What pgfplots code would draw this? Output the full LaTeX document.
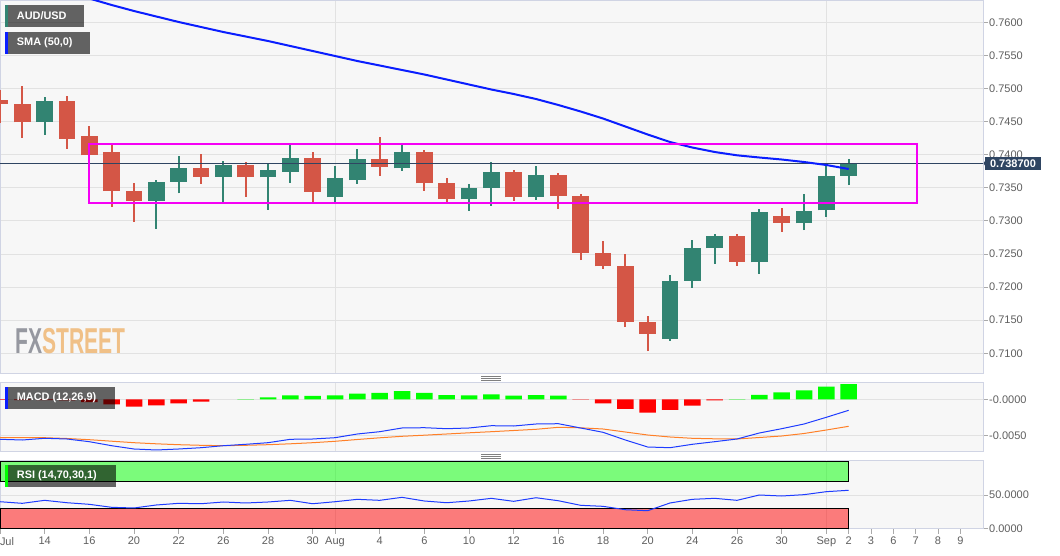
\documentclass[border=0pt]{standalone}
\usepackage{fontspec}
\setmainfont{Liberation Sans}
\usepackage{graphicx}
\usepackage{pgfplots}
\pgfplotsset{compat=1.18}
\usepackage{pgfplotstable}

\definecolor{bg}{RGB}{247,247,247}
\definecolor{bordc}{RGB}{208,212,228}
\definecolor{gridc}{RGB}{226,226,226}
\definecolor{cred}{RGB}{212,86,70}
\definecolor{cgreen}{RGB}{50,132,114}
\definecolor{smablue}{RGB}{10,30,255}
\definecolor{lblue}{RGB}{30,60,255}
\definecolor{lorange}{RGB}{255,128,40}
\definecolor{magc}{RGB}{245,0,245}
\definecolor{navy}{RGB}{47,69,98}
\definecolor{tickc}{RGB}{95,95,95}
\definecolor{tickm}{RGB}{170,170,170}
\definecolor{fxgray}{RGB}{150,152,160}
\definecolor{fxorange}{RGB}{240,192,135}

\newcommand{\ticfont}{\fontsize{11}{13}\selectfont}
\newcommand{\legfont}{\fontsize{10.9}{13}\selectfont\bfseries}

% red (down) candles
\pgfplotstableread{
idx open high low close
0 0.748263 0.749774 0.744789 0.747613
1 0.747610 0.750378 0.742568 0.744894
3 0.748157 0.748867 0.740906 0.742417
4 0.742870 0.744335 0.739501 0.739909
5 0.740362 0.741616 0.732145 0.734516
6 0.734516 0.735725 0.729879 0.733051
9 0.737945 0.740106 0.735620 0.736676
11 0.738488 0.738897 0.733655 0.736586
14 0.739456 0.740408 0.732900 0.734411
17 0.739350 0.742718 0.736827 0.738187
19 0.740408 0.740710 0.734562 0.735680
20 0.735725 0.736480 0.732900 0.733277
23 0.737342 0.737688 0.733051 0.733565
25 0.736888 0.737235 0.731842 0.733761
26 0.733761 0.734063 0.724093 0.725196
27 0.725150 0.726963 0.722778 0.723141
28 0.723141 0.724998 0.713972 0.714772
29 0.714727 0.715633 0.710347 0.712960
33 0.727718 0.728021 0.723232 0.723836
35 0.730695 0.731949 0.728368 0.729728
}\redc

% green (up) candles
\pgfplotstableread{
idx open high low close
2 0.744985 0.748716 0.743021 0.748157
7 0.733051 0.736178 0.728821 0.735921
8 0.735921 0.739849 0.734169 0.737945
10 0.736676 0.739047 0.732810 0.738488
12 0.736586 0.738700 0.731691 0.737688
13 0.737432 0.741465 0.735770 0.739456
15 0.733610 0.738293 0.732900 0.736480
16 0.736178 0.740860 0.735620 0.739350
18 0.737945 0.741616 0.737583 0.740408
21 0.733262 0.735574 0.731541 0.735045
22 0.735015 0.738897 0.732296 0.737342
24 0.733565 0.738293 0.733202 0.736979
30 0.712158 0.721826 0.711901 0.720920
31 0.720965 0.727115 0.719909 0.725860
32 0.725860 0.728021 0.723535 0.727718
34 0.723745 0.731797 0.722023 0.731298
36 0.729637 0.734063 0.728625 0.731540
37 0.731601 0.738338 0.730635 0.736827
38 0.736827 0.739304 0.735422 0.738700
}\greenc

% SMA(50), MACD, signal, RSI per session
\pgfplotstableread{
idx sma macd signal rsi
0 0.768203 -0.005494 -0.005275 39.9
1 0.766994 -0.005591 -0.005275 37.5
2 0.765786 -0.005357 -0.005275 42.0
3 0.764577 -0.005453 -0.005385 38.4
4 0.763596 -0.005824 -0.005549 36.0
5 0.762614 -0.006374 -0.005755 31.5
6 0.761707 -0.006827 -0.005961 30.5
7 0.760877 -0.006964 -0.006113 35.0
8 0.760046 -0.006827 -0.006236 37.5
9 0.759290 -0.006648 -0.006319 36.9
10 0.758535 -0.006374 -0.006374 39.5
11 0.757855 -0.006181 -0.006319 38.0
12 0.757176 -0.005961 -0.006236 39.5
13 0.756420 -0.005494 -0.006113 42.0
14 0.755665 -0.005453 -0.005961 36.9
15 0.754910 -0.005275 -0.005769 39.9
16 0.754154 -0.004766 -0.005522 43.5
17 0.753475 -0.004450 -0.005288 42.0
18 0.752795 -0.003942 -0.005082 46.5
19 0.752115 -0.003901 -0.004931 41.0
20 0.751360 -0.004038 -0.004766 38.4
21 0.750604 -0.003942 -0.004602 41.0
22 0.749849 -0.003626 -0.004450 45.0
23 0.749169 -0.003668 -0.004286 40.5
24 0.748414 -0.003393 -0.004121 45.9
25 0.747508 -0.003352 -0.003846 41.4
26 0.746526 -0.003942 -0.003915 34.5
27 0.745468 -0.004533 -0.004080 33.0
28 0.744260 -0.005591 -0.004492 27.9
29 0.743051 -0.006552 -0.004904 26.4
30 0.741918 -0.006648 -0.005178 38.0
31 0.741087 -0.006181 -0.005357 43.5
32 0.740408 -0.005824 -0.005426 45.0
33 0.739909 -0.005453 -0.005453 42.0
34 0.739577 -0.004629 -0.005247 50.0
35 0.739275 -0.004038 -0.005041 48.5
36 0.738897 -0.003393 -0.004698 50.5
37 0.738444 -0.002472 -0.004217 55.0
38 0.737840 -0.001511 -0.003709 57.1
}\ind

\pgfplotsset{
  panel/.style={
    anchor=south west, scale only axis, width=983pt,
    xmin=0, xmax=44.015,
    axis background/.style={fill=bg},
    axis line style={draw=bordc, line width=1pt},
    grid style={draw=gridc, line width=1pt},
    ymajorgrids, xmajorgrids=false,
    yticklabel pos=right, ytick pos=right,
    tick align=outside, major tick length=5pt,
    scaled y ticks=false,
    ytick style={draw=tickm, line width=1pt},
    yticklabel style={font=\ticfont, text=tickc, inner sep=1pt},
    xticklabel style={font=\ticfont, text=tickc},
    /pgf/number format/assume math mode=true,
  },
  nox/.style={xtick={15,37}, xticklabels={}, xmajorgrids, xtick style={draw=none}},
}

\begin{document}
\begin{tikzpicture}
\useasboundingbox (0pt,0pt) rectangle (1060pt,555pt);
\fill[white] (0pt,0pt) rectangle (1060pt,555pt);

% ---------------- price panel ----------------
\begin{axis}[panel, nox, at={(0pt,182pt)}, height=372pt,
  ymin=0.707024, ymax=0.763218,
  ytick={0.71,0.715,0.72,0.725,0.73,0.735,0.74,0.745,0.75,0.755,0.76},
  yticklabels={0.7100,0.7150,0.7200,0.7250,0.7300,0.7350,0.7400,0.7450,0.7500,0.7550,0.7600}]
% wicks
\addplot[draw=none, mark=none, error bars/.cd, y dir=plus, y explicit, error mark=none,
  error bar style={draw=cred, line width=2pt}]
  table[x=idx, y=low, y error plus expr=\thisrow{high}-\thisrow{low}] {\redc};
\addplot[draw=none, mark=none, error bars/.cd, y dir=plus, y explicit, error mark=none,
  error bar style={draw=cgreen, line width=2pt}]
  table[x=idx, y=low, y error plus expr=\thisrow{high}-\thisrow{low}] {\greenc};
% bodies
\addplot[draw=none, mark=none, error bars/.cd, y dir=plus, y explicit, error mark=none,
  error bar style={draw=cred, line width=16.5pt}]
  table[x=idx, y=close, y error plus expr=\thisrow{open}-\thisrow{close}] {\redc};
\addplot[draw=none, mark=none, error bars/.cd, y dir=plus, y explicit, error mark=none,
  error bar style={draw=cgreen, line width=16.5pt}]
  table[x=idx, y=open, y error plus expr=\thisrow{close}-\thisrow{open}] {\greenc};
% last price line
\addplot[draw=navy, line width=1pt] coordinates {(0,0.7387) (44.015,0.7387)};
% SMA 50
\addplot[draw=smablue, line width=2pt] table[x=idx, y=sma] {\ind};
% range box
\addplot[draw=magc, line width=2pt] coordinates {(3.986,0.732704) (41.05,0.732704) (41.05,0.741662) (3.986,0.741662) (3.986,0.732704)} -- cycle;
\end{axis}

% ---------------- MACD panel ----------------
\begin{axis}[panel, nox, at={(0pt,103.7pt)}, height=69pt,
  ymin=-0.007143, ymax=0.002335,
  ytick={-0.005,0}, yticklabels={-0.0050,-0.0000}]
\addplot[ybar, bar width=16.5pt, bar shift=0pt, fill=red, draw=none] coordinates {
(0,-0.00008) (1,-0.0001) (2,-0.0001) (3,-0.00015) (4,-0.0004) (5,-0.00068) (6,-0.0010)
(7,-0.00082) (8,-0.00055) (9,-0.00032) (26,-0.00004) (27,-0.00055) (28,-0.00132)
(29,-0.00183) (30,-0.00146) (31,-0.00087) (32,-0.00014)};
\addplot[ybar, bar width=16.5pt, bar shift=0pt, fill=green, draw=none] coordinates {
(11,0.00004) (12,0.00027) (13,0.00055) (14,0.00046) (15,0.00055) (16,0.00078) (17,0.00087)
(18,0.00114) (19,0.00087) (20,0.00059) (21,0.00055) (22,0.00068) (23,0.0005) (24,0.00059)
(25,0.0005) (33,0.00003) (34,0.0006) (35,0.00096) (36,0.00123) (37,0.00174) (38,0.0021)};
\addplot[draw=lorange, line width=1pt] table[x=idx, y=signal] {\ind};
\addplot[draw=lblue, line width=1pt] table[x=idx, y=macd] {\ind};
\end{axis}

% ---------------- RSI panel ----------------
\begin{axis}[panel, at={(0pt,26.3pt)}, height=68.4pt,
  ymin=-0.6, ymax=102.1,
  ytick={0,50}, yticklabels={0.0000,50.0000},
  xtick pos=bottom,
  xtick={0,2,4,6,8,10,12,14,15,17,19,21,23,25,27,29,31,33,35,37,38,39,40,41,42,43},
  xticklabels={\makebox[0pt][l]{Jul},14,16,20,22,26,28,30,Aug,4,6,10,12,16,18,20,24,26,30,Sep,2,3,6,7,8,9},
  xtick style={draw=tickm, line width=1pt},
  extra x ticks={15,37}, extra x tick labels={},
  extra x tick style={grid=major, major tick length=0pt}]
\addplot[fill=green, fill opacity=0.5, draw=black, line width=0.8pt] coordinates {(0,70) (38,70) (38,100) (0,100) (0,70)} -- cycle;
\addplot[fill=red, fill opacity=0.5, draw=black, line width=0.8pt] coordinates {(0,0) (38,0) (38,30) (0,30) (0,0)} -- cycle;
\addplot[draw=lblue, line width=1pt] table[x=idx, y=rsi] {\ind};
\end{axis}

% ---------------- overlays (image px -> pt, y flipped) ----------------
% watermark
\node[anchor=base west, inner sep=0pt] at (15pt,202pt)
  {\scalebox{0.585}[1]{\fontsize{36}{36}\selectfont\bfseries\color{fxgray}FX\color{fxorange}STREET}};

% legend tags
\fill[black, fill opacity=0.6] (5pt,528.3pt) rectangle (84pt,550pt);
\fill[cgreen] (5pt,528.3pt) rectangle (7.7pt,550pt);
\node[anchor=west, inner sep=0pt, text=white, font=\legfont] at (16.7pt,539.2pt) {AUD/USD};

\fill[black, fill opacity=0.6] (5pt,501.3pt) rectangle (90pt,523pt);
\fill[smablue] (5pt,501.3pt) rectangle (7.7pt,523pt);
\node[anchor=west, inner sep=0pt, text=white, font=\legfont] at (16.7pt,512.2pt) {SMA (50,0)};

\fill[black, fill opacity=0.6] (5pt,146.3pt) rectangle (115pt,167.7pt);
\fill[smablue] (5pt,146.3pt) rectangle (7.7pt,167.7pt);
\node[anchor=west, inner sep=0pt, text=white, font=\legfont] at (16.7pt,157pt) {MACD (12,26,9)};

\fill[black, fill opacity=0.6] (5pt,68.3pt) rectangle (116pt,90pt);
\fill[green] (5pt,68.3pt) rectangle (7.7pt,90pt);
\node[anchor=west, inner sep=0pt, text=white, font=\legfont] at (16.7pt,79.2pt) {RSI (14,70,30,1)};

% current price tag
\fill[navy] (983.5pt,391.7pt) -- (985.5pt,394.7pt) -- (985.5pt,388.7pt) -- cycle;
\fill[navy] (985pt,384.5pt) rectangle (1041pt,397.5pt);
\node[text=white, inner sep=0pt, font=\fontsize{11}{13}\selectfont\bfseries] at (1013pt,391pt) {0.738700};

% panel grips
\foreach \yy in {178.5,176.5,174.5,100.5,98.5,96.5}{
  \draw[gray, line width=0.8pt] (481pt,\yy pt) -- (501pt,\yy pt);
}
\end{tikzpicture}
\end{document}
